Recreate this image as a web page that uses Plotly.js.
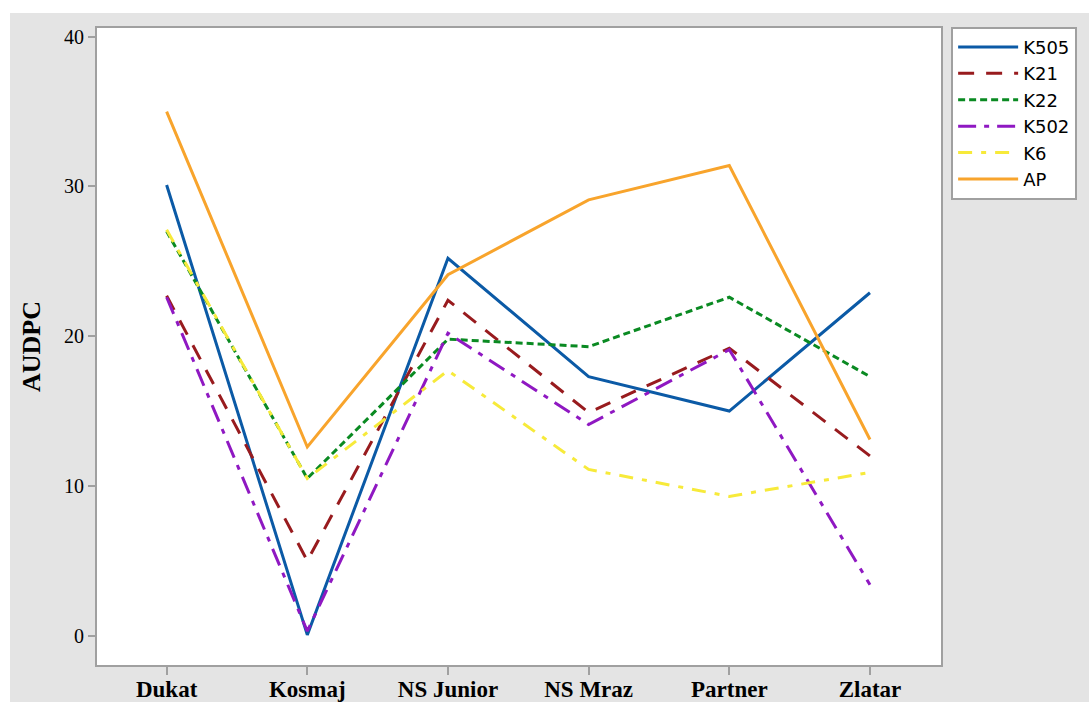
<!DOCTYPE html>
<html>
<head>
<meta charset="utf-8">
<script src="https://cdn.plot.ly/plotly-3.0.1.min.js"></script>
<style>
html,body{margin:0;padding:0;background:#ffffff;width:1089px;height:702px;overflow:hidden;}
#chart{position:absolute;left:10px;top:13px;width:1079px;height:689px;}
</style>
</head>
<body>
<div id="chart"></div>
<script>
const categories = ["Dukat", "Kosmaj", "NS Junior", "NS Mraz", "Partner", "Zlatar"];
const K505 = [30.1, 0.05, 25.2, 17.3, 15.0, 22.9];
const K21  = [22.7, 5.0, 22.4, 14.9, 19.2, 12.0];
const K22  = [27.0, 10.5, 19.8, 19.3, 22.6, 17.3];
const K502 = [22.6, 0.3, 20.2, 14.1, 19.1, 3.4];
const K6   = [27.1, 10.5, 17.7, 11.1, 9.3, 10.9];
const AP   = [35.0, 12.6, 24.1, 29.1, 31.4, 13.1];
const yTicks = [0, 10, 20, 30, 40];

const seriesNames = ["K505", "K21", "K22", "K502", "K6", "AP"];
const seriesData = [K505, K21, K22, K502, K6, AP];
const colors = ["#0b5aa6", "#981b1e", "#0a8a22", "#8f18c2", "#f7ea3a", "#f8a42c"];
const dashes = ["solid", "16px,12px", "7px,4px", "18px,8px,5px,8px", "14px,9px,5px,9px", "solid"];

const xIdx = categories.map((c, i) => i);
const traces = seriesNames.map((n, k) => ({
  x: xIdx,
  y: seriesData[k],
  name: n,
  type: "scatter",
  mode: "lines",
  line: {color: colors[k], width: 3, dash: dashes[k]},
  hoverinfo: "x+y+name"
}));

const layout = {
  width: 1079,
  height: 689,
  paper_bgcolor: "#e4e4e4",
  plot_bgcolor: "#ffffff",
  margin: {l: 87, r: 148, t: 15, b: 37},
  showlegend: true,
  legend: {
    x: 1.012, y: 1.002, xanchor: "left", yanchor: "top",
    bgcolor: "#ffffff",
    bordercolor: "#a0a0a0",
    borderwidth: 2,
    font: {family: "DejaVu Sans, sans-serif", size: 18, color: "#000000"},
    itemwidth: 60,
    tracegroupgap: 0
  },
  xaxis: {
    range: [-0.495, 5.505],
    tickmode: "array",
    tickvals: xIdx,
    ticktext: categories,
    showgrid: false,
    zeroline: false,
    showline: true,
    linecolor: "#a0a0a0",
    linewidth: 2,
    mirror: true,
    ticks: "outside",
    ticklen: 8,
    tickwidth: 2,
    tickcolor: "#a0a0a0",
    ticklabelstandoff: -6,
    tickfont: {family: "Liberation Serif, Times New Roman, serif", size: 23, color: "#000000", weight: "bold"},
    fixedrange: true
  },
  yaxis: {
    range: [-1.96, 40.58],
    tickmode: "array",
    tickvals: yTicks,
    ticktext: yTicks.map(String),
    showgrid: false,
    zeroline: false,
    showline: true,
    linecolor: "#a0a0a0",
    linewidth: 2,
    mirror: true,
    ticks: "outside",
    ticklen: 7,
    tickwidth: 2,
    tickcolor: "#a0a0a0",
    tickfont: {family: "Liberation Serif, Times New Roman, serif", size: 20, color: "#000000"},
    title: {text: "<b>AUDPC</b>", font: {family: "Liberation Serif, Times New Roman, serif", size: 26, color: "#000000"}, standoff: 16},
    automargin: false,
    fixedrange: true
  }
};

Plotly.newPlot("chart", traces, layout, {displayModeBar: false, staticPlot: false});
</script>
</body>
</html>
